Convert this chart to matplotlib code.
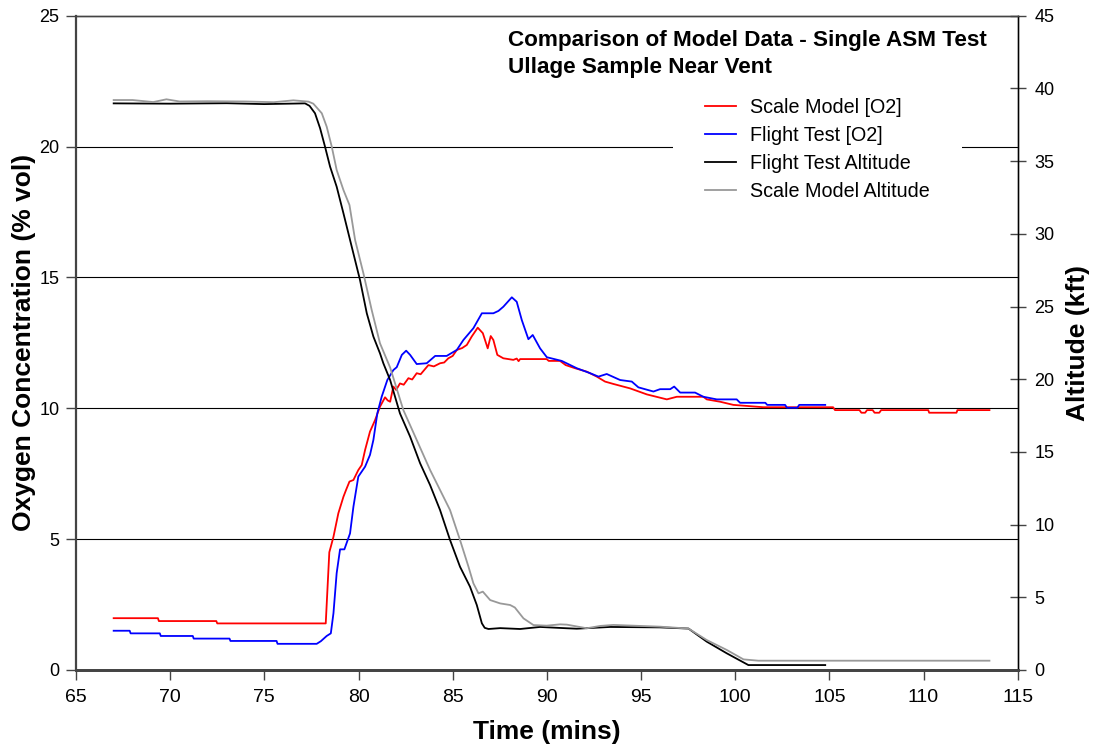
import matplotlib
matplotlib.use("Agg")
import matplotlib.pyplot as plt

plt.rcParams['font.family'] = ['Liberation Sans', 'DejaVu Sans']

# ---- data ----
sm_o2_t = [67.0, 69.35, 69.4, 72.45, 72.5, 78.26, 78.45, 78.53, 78.67, 78.93, 79.2, 79.35, 79.52, 79.73,
           79.99, 80.17, 80.35, 80.61, 80.88, 81.14, 81.41, 81.55, 81.68, 81.85, 82.0, 82.2, 82.4, 82.65,
           82.85, 83.09, 83.3, 83.71, 84.0, 84.33, 84.55, 84.77, 85.0, 85.22, 85.5, 85.75, 86.01, 86.33,
           86.6, 86.86, 87.02, 87.16, 87.37, 87.69, 88.22, 88.4, 88.5, 88.58, 89.99, 90.1, 90.7, 91.0,
           91.5, 92.12, 92.65, 93.09, 93.53, 94.42, 95.31, 96.37, 96.9, 98.31, 98.49, 99.2, 99.9, 101.5,
           105.2, 105.3, 106.6, 106.7, 106.9, 107.0, 107.3, 107.4, 107.65, 107.75, 110.25, 110.3, 111.75,
           111.8, 113.5]
sm_o2 = [1.98, 1.98, 1.87, 1.87, 1.78, 1.78, 4.5, 4.71, 5.09, 5.99, 6.62, 6.9, 7.2, 7.26,
         7.64, 7.83, 8.41, 9.11, 9.55, 10.06, 10.42, 10.3, 10.25, 10.83, 10.7, 10.95, 10.9, 11.15,
         11.1, 11.34, 11.3, 11.65, 11.6, 11.72, 11.75, 11.91, 12.0, 12.23, 12.3, 12.42, 12.74, 13.08,
         12.87, 12.29, 12.76, 12.61, 12.04, 11.91, 11.85, 11.9, 11.8, 11.88, 11.88, 11.81, 11.81, 11.65,
         11.53, 11.4, 11.21, 11.02, 10.93, 10.76, 10.53, 10.34, 10.44, 10.44, 10.34, 10.25, 10.13, 10.04,
         10.04, 9.93, 9.93, 9.83, 9.83, 9.93, 9.93, 9.83, 9.83, 9.93, 9.93, 9.83, 9.83,
         9.93, 9.93]

ft_o2_t = [67.0, 67.85, 67.9, 69.45, 69.5, 71.2, 71.25, 73.15, 73.2, 75.65, 75.7, 77.78, 78.0, 78.31,
           78.53, 78.67, 78.84, 79.02, 79.25, 79.55, 79.73, 79.99, 80.35, 80.61, 80.79, 81.0, 81.23,
           81.53, 81.85, 82.03, 82.3, 82.53, 82.74, 83.09, 83.62, 84.07, 84.68, 85.22, 85.57, 86.1,
           86.55, 87.16, 87.43, 87.69, 88.14, 88.4, 88.67, 89.02, 89.25, 89.64, 90.0, 90.79, 91.59,
           92.3, 92.74, 93.18, 93.89, 94.51, 94.86, 95.66, 96.01, 96.55, 96.76, 97.08, 97.87, 98.31,
           99.02, 100.08, 100.26, 101.6, 101.7, 102.65, 102.75, 103.3, 103.4, 104.78]
ft_o2 = [1.5, 1.5, 1.4, 1.4, 1.3, 1.3, 1.2, 1.2, 1.11, 1.11, 1.0, 1.0, 1.1, 1.3,
         1.4, 2.17, 3.7, 4.61, 4.61, 5.22, 6.24, 7.39, 7.77, 8.22, 8.79, 9.81, 10.44,
         11.08, 11.46, 11.57, 12.04, 12.2, 12.04, 11.69, 11.72, 12.0, 12.0, 12.23, 12.61, 13.06,
         13.63, 13.63, 13.72, 13.88, 14.24, 14.07, 13.37, 12.64, 12.8, 12.29, 11.95, 11.81, 11.53,
         11.34, 11.21, 11.31, 11.08, 11.02, 10.8, 10.64, 10.73, 10.73, 10.83, 10.6, 10.6, 10.44,
         10.34, 10.34, 10.21, 10.21, 10.13, 10.13, 10.02, 10.02, 10.13, 10.13]

ft_alt_t = [67.0, 70.0, 73.0, 75.0, 77.16, 77.4, 77.69, 77.96, 78.22, 78.49, 78.84, 79.2, 79.64, 80.08,
            80.44, 80.79, 81.14, 81.32, 81.68, 82.2, 82.74, 83.27, 83.8, 84.33, 84.86, 85.39, 85.92,
            86.28, 86.55, 86.7, 86.9, 87.52, 88.58, 89.64, 91.06, 91.59, 93.36, 96.01, 97.52, 98.49,
            99.55, 100.7, 104.78]
ft_alt = [38.97, 38.95, 38.98, 38.92, 38.97, 38.8, 38.29, 37.26, 36.0, 34.62, 33.24, 31.41, 29.11, 26.82,
          24.53, 22.93, 21.78, 21.09, 19.94, 17.65, 16.05, 14.22, 12.72, 11.0, 8.94, 7.1, 5.73,
          4.47, 3.21, 2.9, 2.82, 2.88, 2.82, 2.96, 2.87, 2.84, 2.96, 2.93, 2.85, 1.95,
          1.15, 0.34, 0.34]

sm_alt_t = [67.0, 68.0, 69.1, 69.8, 70.5, 72.0, 74.0, 75.5, 76.54, 77.34, 77.6, 78.05, 78.31, 78.58,
            78.84, 79.2, 79.52, 79.82, 80.26, 80.7, 81.14, 81.68, 82.38, 83.09, 83.8, 84.33, 84.86,
            85.39, 85.84, 86.1, 86.37, 86.6, 86.99, 87.52, 88.05, 88.3, 88.76, 89.29, 89.99, 90.7,
            91.06, 92.12, 92.83, 93.53, 96.01, 97.52, 98.49, 99.55, 100.44, 101.23, 113.5]
sm_alt = [39.2, 39.2, 39.06, 39.25, 39.1, 39.12, 39.1, 39.05, 39.18, 39.09, 38.95, 38.29, 37.37, 35.99,
          34.39, 33.01, 31.98, 29.57, 27.28, 24.76, 22.47, 20.8, 17.88, 15.82, 13.76, 12.38, 11.0,
          8.94, 7.1, 5.96, 5.27, 5.39, 4.81, 4.58, 4.47, 4.3, 3.55, 3.09, 3.05, 3.14,
          3.12, 2.87, 3.03, 3.1, 2.98, 2.85, 2.06, 1.38, 0.73, 0.64, 0.64]

labels = ['Scale Model [O2]', 'Flight Test [O2]', 'Flight Test Altitude', 'Scale Model Altitude']
colors = ['#ff0000', '#0000ff', '#000000', '#999999']

title_lines = ['Comparison of Model Data - Single ASM Test', 'Ullage Sample Near Vent']

# ---- figure ----
W, H = 1095, 744
fig = plt.figure(figsize=(W / 100, H / 100), dpi=100)
L, R, T, B = 76, 1017.7, 15.7, 670
ax = fig.add_axes([L / W, (H - B) / H, (R - L) / W, (B - T) / H])
ax2 = ax.twinx()

def fx(px):
    return (px - L) / (R - L)

def fy(py):
    return (B - py) / (B - T)

ax.set_xlim(65, 115)
ax.set_ylim(0, 25)
ax2.set_ylim(0, 45)
ax.set_xticks(range(65, 116, 5))
ax.set_yticks(range(0, 26, 5))
ax2.set_yticks(range(0, 46, 5))

for y in [5, 10, 15, 20]:
    ax.axhline(y, color='#000000', lw=0.8, zorder=0)

l1, = ax.plot(sm_o2_t, sm_o2, color=colors[0], lw=1.3)
l2, = ax.plot(ft_o2_t, ft_o2, color=colors[1], lw=1.3)
l3, = ax2.plot(ft_alt_t, ft_alt, color=colors[2], lw=1.3)
l4, = ax2.plot(sm_alt_t, sm_alt, color=colors[3], lw=1.3)

for a in (ax, ax2):
    for s in a.spines.values():
        s.set_color('#444444')
        s.set_linewidth(1.0)
ax.spines['left'].set_linewidth(1.6)
ax.spines['bottom'].set_linewidth(2.0)
ax2.spines['bottom'].set_linewidth(2.0)
ax2.spines['right'].set_color('#000000')
ax2.spines['left'].set_visible(False)

ax.tick_params(axis='y', direction='out', length=7, width=1, color='#444444', labelsize=13, pad=5)
ax.tick_params(axis='x', direction='out', length=7, width=1, color='#444444', labelsize=14, pad=7)
ax2.tick_params(axis='y', direction='inout', length=12, width=1, color='#444444', labelsize=13, pad=6)

ax.set_xlabel('Time (mins)', fontsize=19, fontweight='bold')
ax.set_ylabel('Oxygen Concentration (% vol)', fontsize=19, fontweight='bold')
ax2.set_ylabel('Altitude (kft)', fontsize=19, fontweight='bold')
ax.xaxis.set_label_coords(0.5, fy(720))
ax.yaxis.set_label_coords(fx(36), 0.5)
ax2.yaxis.set_label_coords(fx(1066), 0.5)

for line, base in zip(title_lines, [45.7, 73.3]):
    ax2.text(fx(508.3), fy(base), line, transform=ax2.transAxes, zorder=10,
             fontsize=16.2, fontweight='bold', ha='left', va='baseline')

leg = ax2.legend([l1, l2, l3, l4], labels, loc='upper left', bbox_to_anchor=(fx(673), fy(66)),
                 fontsize=14.2, frameon=True, facecolor='white', edgecolor='none', framealpha=1,
                 fancybox=False, handlelength=1.6, handletextpad=0.72, labelspacing=0.47,
                 borderpad=1.6, borderaxespad=0)
leg.set_zorder(5)

fig.savefig('out.png', dpi=100)
